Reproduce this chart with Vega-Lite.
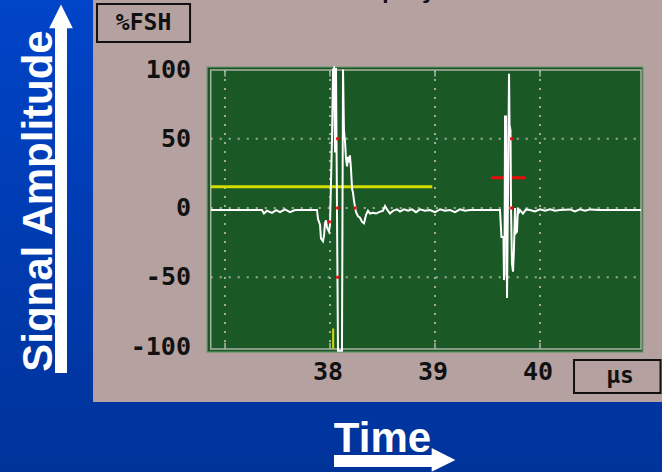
{
  "$schema": "https://vega.github.io/schema/vega-lite/v6.json",
  "width": 662,
  "height": 472,
  "autosize": {"type": "none"},
  "padding": 0,
  "background": "#003aaf",
  "config": {"view": {"stroke": null}},
  "datasets": {
    "trace": [
      {"t": 36.867, "a": -1.5}, {"t": 37.048, "a": -1.5}, {"t": 37.238, "a": -1.5}, {"t": 37.352, "a": -1.5},
      {"t": 37.371, "a": -4}, {"t": 37.400, "a": -2}, {"t": 37.448, "a": -3.5}, {"t": 37.486, "a": -1.5},
      {"t": 37.524, "a": -3}, {"t": 37.571, "a": -1}, {"t": 37.619, "a": -3}, {"t": 37.667, "a": -1.5},
      {"t": 37.714, "a": -1.5}, {"t": 37.810, "a": -1.5}, {"t": 37.876, "a": -1.5},
      {"t": 37.886, "a": -8}, {"t": 37.905, "a": -12}, {"t": 37.914, "a": -22}, {"t": 37.933, "a": -24},
      {"t": 37.943, "a": -20}, {"t": 37.952, "a": -11}, {"t": 37.962, "a": -9}, {"t": 37.971, "a": -14},
      {"t": 37.990, "a": -17}, {"t": 38.000, "a": -12}, {"t": 38.010, "a": 20}, {"t": 38.019, "a": 50},
      {"t": 38.029, "a": 100}, {"t": 38.038, "a": 101}, {"t": 38.048, "a": 40}, {"t": 38.057, "a": 101},
      {"t": 38.076, "a": -103}, {"t": 38.114, "a": -103}, {"t": 38.124, "a": 100}, {"t": 38.133, "a": 56},
      {"t": 38.143, "a": 48}, {"t": 38.152, "a": 36}, {"t": 38.162, "a": 30}, {"t": 38.171, "a": 37},
      {"t": 38.181, "a": 33}, {"t": 38.190, "a": 38}, {"t": 38.200, "a": 28}, {"t": 38.210, "a": 14},
      {"t": 38.219, "a": 11}, {"t": 38.229, "a": 5}, {"t": 38.238, "a": 1}, {"t": 38.248, "a": -3},
      {"t": 38.267, "a": -6}, {"t": 38.286, "a": -7}, {"t": 38.305, "a": -10}, {"t": 38.324, "a": -11},
      {"t": 38.343, "a": -5}, {"t": 38.362, "a": -2}, {"t": 38.381, "a": -4}, {"t": 38.410, "a": -3.5},
      {"t": 38.438, "a": -4}, {"t": 38.467, "a": -3}, {"t": 38.505, "a": -2}, {"t": 38.524, "a": 1.5},
      {"t": 38.543, "a": -1}, {"t": 38.571, "a": -4}, {"t": 38.600, "a": -2}, {"t": 38.638, "a": -1},
      {"t": 38.667, "a": -2.5}, {"t": 38.705, "a": -1}, {"t": 38.743, "a": -2}, {"t": 38.781, "a": -1},
      {"t": 38.819, "a": -3}, {"t": 38.857, "a": -1}, {"t": 38.905, "a": -2}, {"t": 38.952, "a": -1.5},
      {"t": 39.000, "a": -3}, {"t": 39.048, "a": -1}, {"t": 39.095, "a": -2}, {"t": 39.143, "a": -1.5},
      {"t": 39.190, "a": -3}, {"t": 39.238, "a": -1}, {"t": 39.286, "a": -2}, {"t": 39.333, "a": -1.5},
      {"t": 39.429, "a": -1.5}, {"t": 39.524, "a": -1.5}, {"t": 39.600, "a": -1.5}, {"t": 39.619, "a": -1.5},
      {"t": 39.633, "a": -21}, {"t": 39.652, "a": -21}, {"t": 39.657, "a": -52}, {"t": 39.662, "a": -48},
      {"t": 39.667, "a": 66}, {"t": 39.676, "a": 66}, {"t": 39.686, "a": -65}, {"t": 39.695, "a": 10},
      {"t": 39.705, "a": 97}, {"t": 39.710, "a": 60}, {"t": 39.719, "a": 56}, {"t": 39.724, "a": 0},
      {"t": 39.733, "a": -40}, {"t": 39.743, "a": -46}, {"t": 39.752, "a": -30}, {"t": 39.762, "a": 0},
      {"t": 39.771, "a": -18}, {"t": 39.781, "a": -17}, {"t": 39.790, "a": 0}, {"t": 39.800, "a": -3},
      {"t": 39.810, "a": -1.5}, {"t": 39.838, "a": -4}, {"t": 39.867, "a": -1}, {"t": 39.905, "a": -1.5},
      {"t": 39.952, "a": -2.5}, {"t": 40.000, "a": -1}, {"t": 40.048, "a": -2}, {"t": 40.095, "a": -1},
      {"t": 40.143, "a": -2}, {"t": 40.190, "a": -1.5}, {"t": 40.286, "a": -1}, {"t": 40.333, "a": -2.5},
      {"t": 40.381, "a": -1}, {"t": 40.429, "a": -2}, {"t": 40.476, "a": -1}, {"t": 40.571, "a": -1.5},
      {"t": 40.667, "a": -1.5}, {"t": 40.762, "a": -1.5}, {"t": 40.857, "a": -1.5}, {"t": 40.962, "a": -1.5}
    ],
    "hgrid": [{"a": 50}, {"a": 0}, {"a": -50}],
    "vgrid": [{"t": 37}, {"t": 38}, {"t": 39}, {"t": 40}],
    "ylabels": [{"a": 100, "label": "100"}, {"a": 50, "label": "50"}, {"a": 0, "label": "0"}, {"a": -50, "label": "-50"}, {"a": -100, "label": "-100"}],
    "xlabels": [{"t": 38, "label": "38"}, {"t": 39, "label": "39"}, {"t": 40, "label": "40"}],
    "marks": [{"t": 38.073, "a": 50}, {"t": 38.073, "a": 0}, {"t": 38.073, "a": -50}, {"t": 38.238, "a": 0}, {"t": 39.730, "a": 50}, {"t": 39.730, "a": 0}, {"t": 37.993, "a": -10}]
  },
  "layer": [
    {
      "data": {"values": [{}]},
      "mark": {"type": "rect", "color": {"gradient": "linear", "x1": 0, "y1": 0, "x2": 0, "y2": 1, "stops": [{"offset": 0, "color": "#0044c8"}, {"offset": 1, "color": "#00339a"}]}},
      "encoding": {
        "x": {"datum": 34.857, "type": "quantitative", "scale": {"domain": [34.857, 41.162], "nice": false, "zero": false}, "axis": null},
        "x2": {"datum": 41.162},
        "y": {"datum": 150.18, "type": "quantitative", "scale": {"domain": [-190.6, 150.18], "nice": false, "zero": false}, "axis": null},
        "y2": {"datum": -190.6}
      }
    },
    {
      "data": {"values": [{}]},
      "mark": {"type": "rect", "color": "#b4a1a0"},
      "encoding": {
        "x": {"datum": 35.743, "type": "quantitative"},
        "x2": {"datum": 41.162},
        "y": {"datum": 150.18, "type": "quantitative"},
        "y2": {"datum": -140.07}
      }
    },
    {
      "data": {"values": [{}]},
      "mark": {"type": "rect", "fill": "#1a5926", "stroke": "#6f9a70", "strokeWidth": 1.2},
      "encoding": {
        "x": {"datum": 36.829, "type": "quantitative"},
        "x2": {"datum": 40.981},
        "y": {"datum": 101.8, "type": "quantitative"},
        "y2": {"datum": -104.0}
      }
    },
    {
      "data": {"name": "hgrid"},
      "mark": {"type": "rule", "color": "#a2aa9c", "strokeWidth": 2, "strokeDash": [2, 7]},
      "encoding": {
        "x": {"datum": 36.864, "type": "quantitative"},
        "x2": {"datum": 40.962},
        "y": {"field": "a", "type": "quantitative"}
      }
    },
    {
      "data": {"name": "vgrid"},
      "mark": {"type": "rule", "color": "#a2aa9c", "strokeWidth": 2, "strokeDash": [2, 7]},
      "encoding": {
        "x": {"field": "t", "type": "quantitative"},
        "y": {"datum": 99.6, "type": "quantitative"},
        "y2": {"datum": -101.8}
      }
    },
    {
      "data": {"name": "vgrid"},
      "mark": {"type": "rule", "color": "#b0b6aa", "strokeWidth": 1.5},
      "encoding": {
        "x": {"field": "t", "type": "quantitative"},
        "y": {"datum": 99.6, "type": "quantitative"},
        "y2": {"datum": 95.0}
      }
    },
    {
      "data": {"name": "vgrid"},
      "mark": {"type": "rule", "color": "#b0b6aa", "strokeWidth": 1.5},
      "encoding": {
        "x": {"field": "t", "type": "quantitative"},
        "y": {"datum": -101.8, "type": "quantitative"},
        "y2": {"datum": -97.2}
      }
    },
    {
      "data": {"values": [{}]},
      "mark": {"type": "rect", "fill": null, "fillOpacity": 0, "stroke": "#aab0a4", "strokeWidth": 1.5},
      "encoding": {
        "x": {"datum": 36.864, "type": "quantitative"},
        "x2": {"datum": 40.962},
        "y": {"datum": 99.6, "type": "quantitative"},
        "y2": {"datum": -101.8}
      }
    },
    {
      "data": {"values": [{}]},
      "mark": {"type": "rule", "color": "#d4dc00", "strokeWidth": 3},
      "encoding": {
        "x": {"datum": 36.864, "type": "quantitative"},
        "x2": {"datum": 38.974},
        "y": {"datum": 15.4, "type": "quantitative"}
      }
    },
    {
      "data": {"values": [{}]},
      "mark": {"type": "rule", "color": "#d4dc00", "strokeWidth": 2},
      "encoding": {
        "x": {"datum": 38.030, "type": "quantitative"},
        "y": {"datum": -87, "type": "quantitative"},
        "y2": {"datum": -101.5}
      }
    },
    {
      "data": {"values": [{}]},
      "mark": {"type": "rule", "color": "#e80c0c", "strokeWidth": 3},
      "encoding": {
        "x": {"datum": 39.533, "type": "quantitative"},
        "x2": {"datum": 39.864},
        "y": {"datum": 21.9, "type": "quantitative"}
      }
    },
    {
      "data": {"name": "trace"},
      "mark": {"type": "line", "color": "#ffffff", "strokeWidth": 2, "strokeJoin": "miter"},
      "encoding": {
        "x": {"field": "t", "type": "quantitative"},
        "y": {"field": "a", "type": "quantitative"},
        "order": {"field": "t", "type": "quantitative"}
      }
    },
    {
      "data": {"name": "marks"},
      "mark": {"type": "point", "shape": "square", "filled": true, "size": 9, "color": "#e80c0c", "opacity": 1},
      "encoding": {
        "x": {"field": "t", "type": "quantitative"},
        "y": {"field": "a", "type": "quantitative"}
      }
    },
    {
      "data": {"name": "ylabels"},
      "mark": {"type": "text", "align": "right", "baseline": "middle", "font": "DejaVu Sans Mono", "fontWeight": "bold", "fontSize": 25, "color": "#111111"},
      "encoding": {
        "x": {"datum": 36.676, "type": "quantitative"},
        "y": {"field": "a", "type": "quantitative"},
        "text": {"field": "label"}
      }
    },
    {
      "data": {"name": "xlabels"},
      "mark": {"type": "text", "align": "center", "baseline": "middle", "dx": -2, "font": "DejaVu Sans Mono", "fontWeight": "bold", "fontSize": 25, "color": "#111111"},
      "encoding": {
        "x": {"field": "t", "type": "quantitative"},
        "y": {"datum": -118.4, "type": "quantitative"},
        "text": {"field": "label"}
      }
    },
    {
      "data": {"values": [{}]},
      "mark": {"type": "rect", "fillOpacity": 0, "stroke": "#111111", "strokeWidth": 2},
      "encoding": {
        "x": {"datum": 35.781, "type": "quantitative"},
        "x2": {"datum": 36.667},
        "y": {"datum": 147.3, "type": "quantitative"},
        "y2": {"datum": 119.9}
      }
    },
    {
      "data": {"values": [{}]},
      "mark": {"type": "text", "text": "%FSH", "align": "center", "baseline": "middle", "font": "DejaVu Sans Mono", "fontWeight": "bold", "fontSize": 23, "color": "#111111"},
      "encoding": {
        "x": {"datum": 36.224, "type": "quantitative"},
        "y": {"datum": 133.6, "type": "quantitative"}
      }
    },
    {
      "data": {"values": [{}]},
      "mark": {"type": "rect", "fillOpacity": 0, "stroke": "#111111", "strokeWidth": 2},
      "encoding": {
        "x": {"datum": 40.324, "type": "quantitative"},
        "x2": {"datum": 41.148},
        "y": {"datum": -109.7, "type": "quantitative"},
        "y2": {"datum": -133.6}
      }
    },
    {
      "data": {"values": [{}]},
      "mark": {"type": "text", "text": "µs", "align": "center", "baseline": "middle", "font": "DejaVu Sans Mono", "fontWeight": "bold", "fontSize": 23, "color": "#111111"},
      "encoding": {
        "x": {"datum": 40.762, "type": "quantitative"},
        "y": {"datum": -121.0, "type": "quantitative"}
      }
    },
    {
      "data": {"values": [{}]},
      "mark": {"type": "text", "text": "Display", "align": "center", "baseline": "alphabetic", "font": "DejaVu Sans Mono", "fontWeight": "bold", "fontSize": 22, "color": "#111111"},
      "encoding": {
        "x": {"datum": 38.560, "type": "quantitative"},
        "y": {"datum": 150.6, "type": "quantitative"}
      }
    },
    {
      "data": {"values": [{}]},
      "mark": {"type": "rect", "color": "#ffffff"},
      "encoding": {
        "x": {"datum": 35.381, "type": "quantitative"},
        "x2": {"datum": 35.495},
        "y": {"datum": 131.0, "type": "quantitative"},
        "y2": {"datum": -119.1}
      }
    },
    {
      "data": {"values": [{}]},
      "mark": {"type": "point", "shape": "M-1,1L0,-1L1,1Z", "filled": true, "size": 560, "color": "#ffffff", "opacity": 1},
      "encoding": {
        "x": {"datum": 35.438, "type": "quantitative"},
        "y": {"datum": 138.3, "type": "quantitative"}
      }
    },
    {
      "data": {"values": [{}]},
      "mark": {"type": "text", "text": "Signal Amplitude", "angle": 270, "align": "center", "baseline": "alphabetic", "font": "Liberation Sans", "fontWeight": "bold", "fontSize": 42, "color": "#ffffff"},
      "encoding": {
        "x": {"datum": 35.352, "type": "quantitative"},
        "y": {"datum": 5.05, "type": "quantitative"}
      }
    },
    {
      "data": {"values": [{}]},
      "mark": {"type": "text", "text": "Time", "align": "center", "baseline": "alphabetic", "font": "Liberation Sans", "fontWeight": "bold", "fontSize": 42, "color": "#ffffff"},
      "encoding": {
        "x": {"datum": 38.500, "type": "quantitative"},
        "y": {"datum": -176.2, "type": "quantitative"}
      }
    },
    {
      "data": {"values": [{}]},
      "mark": {"type": "rect", "color": "#ffffff"},
      "encoding": {
        "x": {"datum": 38.038, "type": "quantitative"},
        "x2": {"datum": 38.976},
        "y": {"datum": -178.3, "type": "quantitative"},
        "y2": {"datum": -187.0}
      }
    },
    {
      "data": {"values": [{}]},
      "mark": {"type": "point", "shape": "M-1,-1L1,0L-1,1Z", "filled": true, "size": 560, "color": "#ffffff", "opacity": 1},
      "encoding": {
        "x": {"datum": 39.081, "type": "quantitative"},
        "y": {"datum": -181.9, "type": "quantitative"}
      }
    }
  ]
}
